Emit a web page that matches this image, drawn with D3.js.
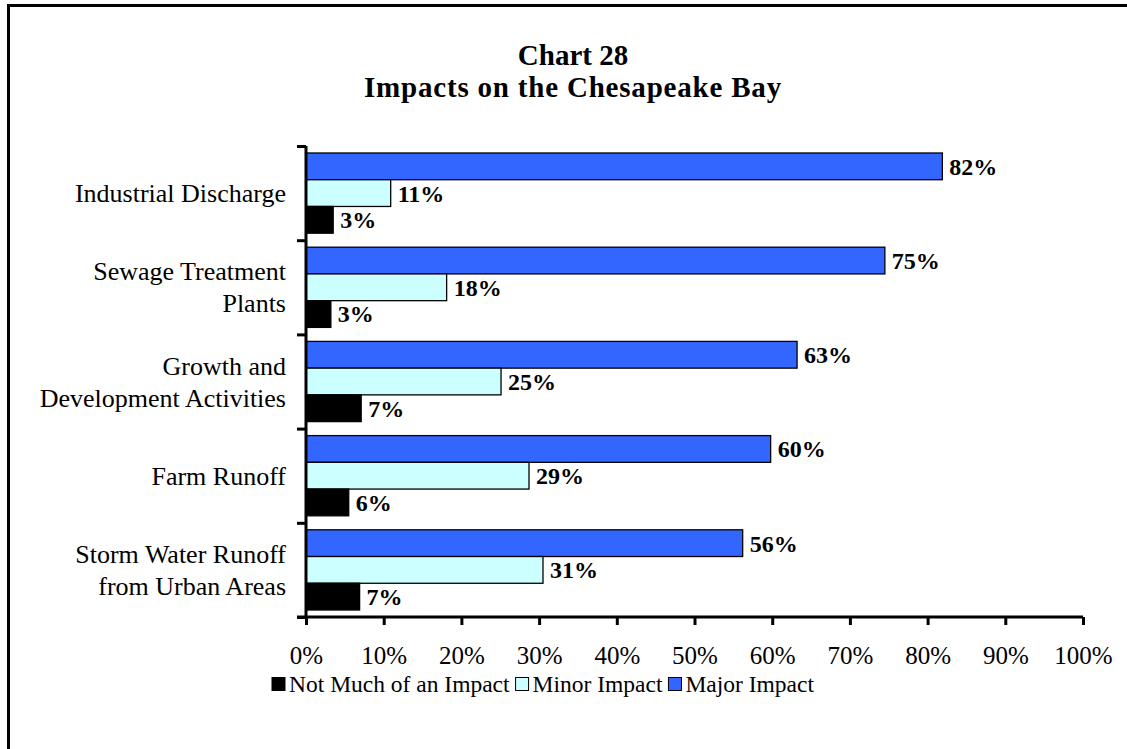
<!DOCTYPE html>
<html>
<head>
<meta charset="utf-8">
<script src="https://cdn.jsdelivr.net/npm/d3@7/dist/d3.min.js"></script>
<style>
  html, body { margin: 0; padding: 0; background: #fff; }
  svg { display: block; }
  text { font-family: "Liberation Serif", "Times New Roman", serif; fill: #000; }
</style>
</head>
<body>
<svg id="chart" width="1127" height="749"></svg>
<script>
// ---- Data ----
const categories = [
  ["Industrial Discharge"],
  ["Sewage Treatment", "Plants"],
  ["Growth and", "Development Activities"],
  ["Farm Runoff"],
  ["Storm Water Runoff", "from Urban Areas"]
];
const seriesNames = ["Major Impact", "Minor Impact", "Not Much of an Impact"];
const majorImpact = [81.9, 74.5, 63.2, 59.8, 56.2];
const minorImpact = [10.9, 18.1, 25.1, 28.7, 30.5];
const notMuchImpact = [3.5, 3.2, 7.1, 5.5, 6.9];
const valueLabels = {
  "Major Impact": ["82%", "75%", "63%", "60%", "56%"],
  "Minor Impact": ["11%", "18%", "25%", "29%", "31%"],
  "Not Much of an Impact": ["3%", "3%", "7%", "6%", "7%"]
};
const xTicks = [0, 10, 20, 30, 40, 50, 60, 70, 80, 90, 100];
const legendOrder = ["Not Much of an Impact", "Minor Impact", "Major Impact"];
const colors = { "Major Impact": "#3366FF", "Minor Impact": "#CCFFFF", "Not Much of an Impact": "#000000" };
const seriesValues = { "Major Impact": majorImpact, "Minor Impact": minorImpact, "Not Much of an Impact": notMuchImpact };

// ---- Layout ----
const svg = d3.select("#chart");
const plotL = 306, plotR = 1083, plotT = 146, plotB = 617;

// frame
svg.append("rect").attr("x", 8.5).attr("y", 5.5).attr("width", 1140).attr("height", 760)
  .attr("fill", "none").attr("stroke", "#000").attr("stroke-width", 3);

// title
const title = svg.append("text").attr("text-anchor", "middle").attr("font-weight", "bold").attr("font-size", 29);
title.append("tspan").attr("x", 573).attr("y", 65).text("Chart 28");
title.append("tspan").attr("x", 573).attr("y", 97).attr("letter-spacing", 0.8).text("Impacts on the Chesapeake Bay");

const x = d3.scaleLinear().domain([0, 100]).range([plotL, plotR]);
const catIdx = d3.range(categories.length);
const y0 = d3.scaleBand().domain(catIdx).range([plotT, plotB]).padding(0);
const y1 = d3.scaleBand().domain(seriesNames).range([7, y0.bandwidth() - 7]).padding(0);

// bars
seriesNames.forEach(s => {
  svg.append("g").selectAll("rect").data(seriesValues[s]).join("rect")
    .attr("x", x(0))
    .attr("y", (d, i) => y0(i) + y1(s))
    .attr("width", d => x(d) - x(0))
    .attr("height", y1.bandwidth())
    .attr("fill", colors[s])
    .attr("stroke", "#000").attr("stroke-width", 1.3);
  svg.append("g").selectAll("text").data(seriesValues[s]).join("text")
    .attr("x", d => x(d) + 7)
    .attr("y", (d, i) => y0(i) + y1(s) + y1.bandwidth() / 2)
    .attr("dy", "0.35em")
    .attr("font-weight", "bold").attr("font-size", 24)
    .text((d, i) => valueLabels[s][i]);
});

// x axis
const xAxis = d3.axisBottom(x).tickValues(xTicks).tickFormat(d => d + "%").tickSize(8).tickPadding(21);
const gx = svg.append("g").attr("transform", `translate(0,${plotB})`).call(xAxis);
gx.select(".domain").attr("stroke-width", 3).attr("d", `M${plotL - 9},0H${plotR}`);
gx.selectAll(".tick line").attr("stroke-width", 3);
gx.selectAll(".tick text").attr("font-size", 25).attr("font-family", "Liberation Serif, serif");

// y axis with ticks at band boundaries
const yTickVals = d3.range(categories.length + 1).map(i => plotT + i * y0.bandwidth());
const yScaleId = d3.scaleLinear().domain([plotT, plotB]).range([plotT, plotB]);
const gy = svg.append("g").attr("transform", `translate(${plotL},0)`)
  .call(d3.axisLeft(yScaleId).tickValues(yTickVals).tickSize(9).tickFormat(""));
gy.select(".domain").attr("stroke-width", 3).attr("d", `M0,${plotT}V${plotB}`);
gy.selectAll(".tick line").attr("stroke-width", 3);

// category labels
categories.forEach((lines, i) => {
  const cy = y0(i) + y0.bandwidth() / 2;
  const lh = 32;
  const t = svg.append("text").attr("text-anchor", "end").attr("font-size", 26);
  lines.forEach((ln, j) => {
    t.append("tspan").attr("x", 286)
      .attr("y", cy + (j - (lines.length - 1) / 2) * lh)
      .attr("dy", "0.35em").text(ln);
  });
});

// legend
const legend = svg.append("g").attr("transform", "translate(0,684)");
let lx = 272;
legendOrder.forEach(s => {
  legend.append("rect").attr("x", lx).attr("y", -6.5).attr("width", 13).attr("height", 13)
    .attr("fill", colors[s]).attr("stroke", "#000").attr("stroke-width", 1);
  const t = legend.append("text").attr("x", lx + 17).attr("y", 0).attr("dy", "0.35em")
    .attr("font-size", 23.5).text(s);
  lx += 17 + t.node().getComputedTextLength() + 6;
});
</script>
</body>
</html>
